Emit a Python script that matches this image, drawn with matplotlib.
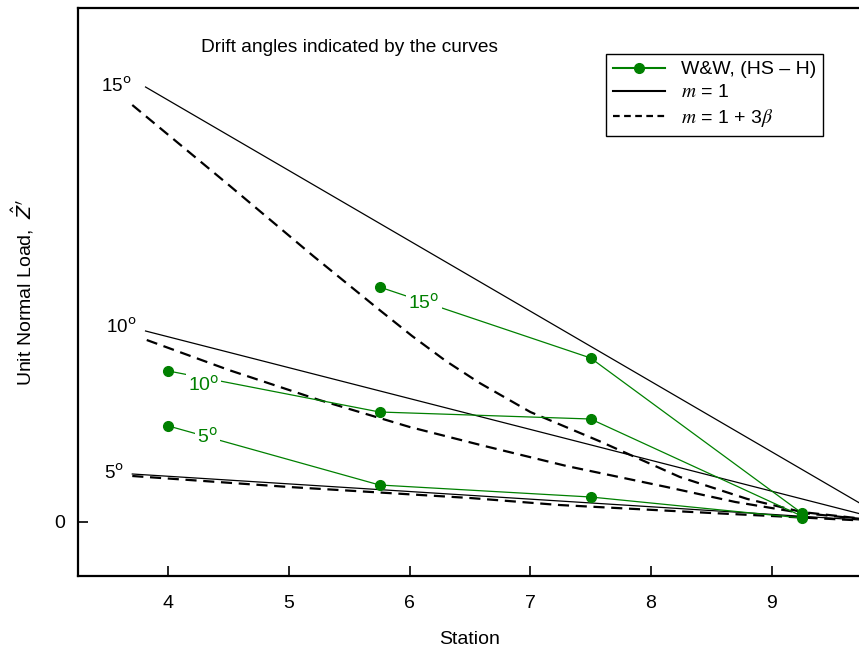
import matplotlib

matplotlib.use("Agg")
import matplotlib.pyplot as plt

plt.rcParams["font.family"] = ["Liberation Sans", "DejaVu Sans"]
plt.rcParams["font.size"] = 14
plt.rcParams["mathtext.fontset"] = "stix"

# straight-line loads (m = 1), one per drift angle
solid_x = {5: [3.70, 10.0], 10: [3.81, 10.0], 15: [3.81, 10.0]}
solid_y = {5: [0.48, 0.0], 10: [1.91, 0.0], 15: [4.35, 0.0]}

# corrected loads (m = 1 + 3 beta)
dash15_x = [3.70, 4.50, 5.20, 5.75, 6.02, 6.30, 6.58, 7.00, 7.57, 8.24, 8.80, 9.25, 10.0]
dash15_y = [4.17, 3.37, 2.66, 2.12, 1.86, 1.61, 1.39, 1.10, 0.81, 0.45, 0.23, 0.10, 0.0]
dash10_x = [3.82, 4.50, 5.25, 6.00, 6.62, 7.30, 8.13, 8.70, 9.25, 10.0]
dash10_y = [1.82, 1.52, 1.22, 0.95, 0.76, 0.56, 0.35, 0.20, 0.09, 0.0]
dash5_x = [3.70, 5.00, 6.50, 7.24, 8.50, 9.25, 10.0]
dash5_y = [0.46, 0.35, 0.24, 0.17, 0.09, 0.045, 0.0]

# W&W measurements (HS - H)
ww15_x = [5.75, 7.5, 9.25]
ww15_y = [2.35, 1.64, 0.09]
ww10_x = [4.0, 5.75, 7.5, 9.25]
ww10_y = [1.51, 1.10, 1.03, 0.06]
ww5_x = [4.0, 5.75, 7.5, 9.25]
ww5_y = [0.96, 0.37, 0.25, 0.04]

green = "#008000"

fig = plt.figure(figsize=(8.59, 6.51), dpi=100)
ax = fig.add_axes([78 / 859, 1 - 576 / 651, 784 / 859, 568 / 651])

for k in (5, 10, 15):
    ax.plot(solid_x[k], solid_y[k], color="black", lw=0.9)
for xs, ys in ((dash15_x, dash15_y), (dash10_x, dash10_y), (dash5_x, dash5_y)):
    ax.plot(xs, ys, color="black", lw=1.6, dashes=(5, 3))
for xs, ys in ((ww15_x, ww15_y), (ww10_x, ww10_y), (ww5_x, ww5_y)):
    ax.plot(xs, ys, color=green, lw=0.9, marker="o", ms=7, mec=green)

box = dict(facecolor="white", edgecolor="none", pad=1.5)
for x, y, s in ((6.12, 2.19, "15"), (4.29, 1.37, "10"), (4.32, 0.85, "5")):
    ax.text(x, y, s + "$^{\\rm o}$", color=green, ha="center", va="center",
            fontsize=14, bbox=box, zorder=5, math_fontfamily="dejavusans")

for x, y, s in ((3.57, 4.36, "15"), (3.61, 1.95, "10"), (3.55, 0.49, "5")):
    ax.text(x, y, s + "$^{\\rm o}$", ha="center", va="center", fontsize=13.5,
            math_fontfamily="dejavusans")

ax.text(5.50, 4.74, "Drift angles indicated by the curves", ha="center",
        va="center", fontsize=13.8)

ax.set_xlim(3.25, 9.75)
ax.set_ylim(-0.54, 5.14)
ax.set_xticks([4, 5, 6, 7, 8, 9])
ax.set_yticks([0])
ax.tick_params(direction="in", length=7, width=1.2, labelsize=14)
ax.tick_params(axis="x", pad=14)
ax.tick_params(axis="y", pad=9)
for sp in ax.spines.values():
    sp.set_linewidth(1.6)

ax.set_xlabel("Station", fontsize=14)
ax.xaxis.set_label_coords(0.5, -0.097)
ax.set_ylabel("Unit Normal Load,  $\\hat{Z}'$", fontsize=14,
              math_fontfamily="dejavusans")
ax.yaxis.set_label_coords(-0.053, 0.5)

h_ww, = ax.plot([], [], color=green, lw=1.5, marker="o", ms=7)
h_m1, = ax.plot([], [], color="black", lw=1.5)
h_m3, = ax.plot([], [], color="black", lw=1.6, dashes=(3, 2))
leg = ax.legend([h_ww, h_m1, h_m3],
                ["W&W, (HS \u2013 H)", "$m$ = 1", "$m$ = 1 + 3$\\beta$"],
                loc="upper right", bbox_to_anchor=(823 / 859, 1 - 54 / 651),
                bbox_transform=fig.transFigure, borderaxespad=0, fancybox=False,
                edgecolor="black", framealpha=1, handlelength=2.7,
                borderpad=0.35, labelspacing=0.28, fontsize=14)
leg.get_frame().set_linewidth(1.0)

fig.savefig("out.png", dpi=100)
